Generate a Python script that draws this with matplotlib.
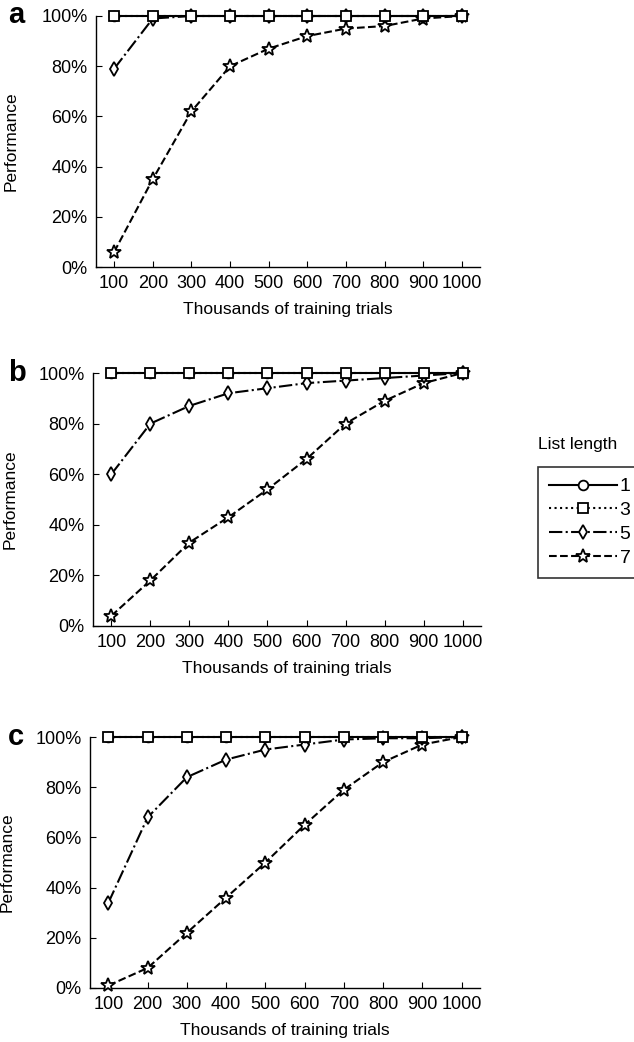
# Performance vs. training trials for different list lengths, three conditions

import numpy as np
import matplotlib
matplotlib.use('Agg')
import matplotlib.pyplot as plt
from matplotlib.lines import Line2D

plt.rcParams['font.family'] = ['Liberation Sans', 'DejaVu Sans']

# Data
trials = [100, 200, 300, 400, 500, 600, 700, 800, 900, 1000]
list_lengths = ['1', '3', '5', '7']

a_len1 = [100, 100, 100, 100, 100, 100, 100, 100, 100, 100]
a_len3 = [100, 100, 100, 100, 100, 100, 100, 100, 100, 100]
a_len5 = [79, 99, 100, 100, 100, 100, 100, 100, 100, 100]
a_len7 = [6, 35, 62, 80, 87, 92, 95, 96, 99, 100]

b_len1 = [100, 100, 100, 100, 100, 100, 100, 100, 100, 100]
b_len3 = [100, 100, 100, 100, 100, 100, 100, 100, 100, 100]
b_len5 = [60, 80, 87, 92, 94, 96, 97, 98, 99, 100]
b_len7 = [4, 18, 33, 43, 54, 66, 80, 89, 96, 100]

c_len1 = [100, 100, 100, 100, 100, 100, 100, 100, 100, 100]
c_len3 = [100, 100, 100, 100, 100, 100, 100, 100, 100, 100]
c_len5 = [34, 68, 84, 91, 95, 97, 99, 99.5, 99.5, 100]
c_len7 = [1, 8, 22, 36, 50, 65, 79, 90, 97, 100]

panels = [
    ('a', [a_len1, a_len3, a_len5, a_len7]),
    ('b', [b_len1, b_len3, b_len5, b_len7]),
    ('c', [c_len1, c_len3, c_len5, c_len7]),
]

# line style and marker for each list length
styles = [
    dict(linestyle='-', marker='o'),
    dict(linestyle=':', marker='s'),
    dict(linestyle='-.', marker='d'),
    dict(linestyle='--', marker='*'),
]
draw_order = [3, 2, 0, 1]

W, H = 634, 1042
# axes boxes in pixels: left, right, top (100%), bottom (0%)
boxes = [
    (96, 480, 16, 267),
    (93, 481, 373, 626),
    (90, 480, 737, 988),
]
ylabel_x = [19, 18, 15]
letter_y = [15, 373, 737]

fig = plt.figure(figsize=(W / 100, H / 100), dpi=100)

for (letter, series), (l, r, t, b), yl, ly in zip(panels, boxes, ylabel_x, letter_y):
    ax = fig.add_axes([l / W, 1 - b / H, (r - l) / W, (b - t) / H])
    for i in draw_order:
        st = styles[i]
        ms = 10 if st['marker'] == '*' else 7
        ax.plot(trials, series[i], color='black', lw=1.5,
                linestyle=st['linestyle'], marker=st['marker'],
                markersize=ms, markerfacecolor='white',
                markeredgecolor='black', markeredgewidth=1.3,
                clip_on=False, zorder=3)
    ax.set_xlim(53, 1047)
    ax.set_ylim(0, 100)
    ax.set_xticks(trials)
    ax.set_xticklabels([str(t) for t in trials])
    ax.set_yticks([0, 20, 40, 60, 80, 100])
    ax.set_yticklabels(['0%', '20%', '40%', '60%', '80%', '100%'])
    ax.tick_params(direction='in', length=4, labelsize=13)
    ax.tick_params(axis='x', pad=6)
    ax.tick_params(axis='y', pad=6)
    ax.spines['top'].set_visible(False)
    ax.spines['right'].set_visible(False)
    ax.spines['left'].set_linewidth(1.0)
    ax.spines['bottom'].set_linewidth(1.0)
    ax.set_ylabel('Performance', fontsize=12.5)
    ax.yaxis.set_label_coords((yl - l) / (r - l), 0.5)
    ax.set_xlabel('Thousands of training trials', fontsize=12.5, labelpad=7)
    fig.text(8 / W, 1 - ly / H, letter, fontsize=21, fontweight='bold',
             va='center', ha='left')

# shared legend on the right
handles = []
for st in styles:
    ms = 10 if st['marker'] == '*' else 7
    handles.append(Line2D([], [], color='black', lw=1.5,
                          linestyle=st['linestyle'], marker=st['marker'],
                          markersize=ms, markerfacecolor='white',
                          markeredgecolor='black', markeredgewidth=1.3))
fig.text(578 / W, 1 - 444 / H, 'List length', fontsize=12.5,
         ha='center', va='center')
leg = fig.legend(handles, list_lengths, loc='upper left',
                 bbox_to_anchor=(538 / W, 1 - 467 / H),
                 fontsize=14, frameon=True, fancybox=False,
                 edgecolor='black', handlelength=3.5, handletextpad=0.15,
                 labelspacing=0.32, borderpad=0.55, borderaxespad=0)
leg.get_frame().set_linewidth(1.2)

plt.savefig('out.png', dpi=100)
